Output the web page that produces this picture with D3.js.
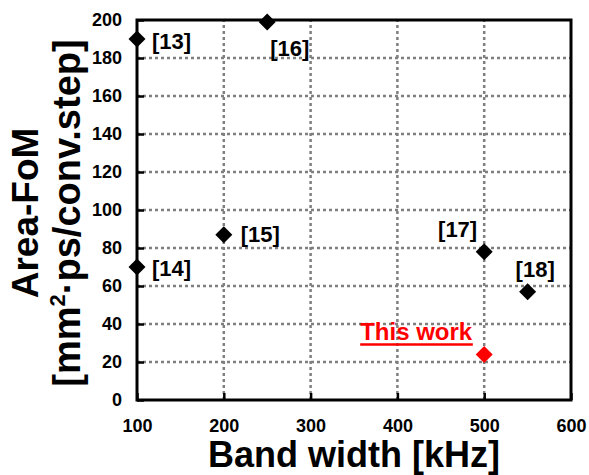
<!DOCTYPE html>
<html>
<head>
<meta charset="utf-8">
<script src="https://cdn.jsdelivr.net/npm/d3@7"></script>
<style>
  html, body { margin: 0; padding: 0; background: #fff; }
  svg { display: block; font-family: "Liberation Sans", Arial, sans-serif; font-weight: bold; }
</style>
</head>
<body>
<svg id="chart" width="589" height="475"></svg>
<script>
// ---- data ----
const refLabels = ["[13]", "[14]", "[15]", "[16]", "[17]", "[18]", "This work"];
const bandwidthKHz = [100, 100, 200, 250, 500, 550, 500];
const areaFoM = [190, 70, 87, 199, 78, 57, 24];
const xTickValues = [100, 200, 300, 400, 500, 600];
const yTickValues = [0, 20, 40, 60, 80, 100, 120, 140, 160, 180, 200];

// ---- layout ----
const W = 589, H = 475;
const margin = { left: 137, right: 18, top: 20, bottom: 75 };
const svg = d3.select("#chart");

const x = d3.scaleLinear().domain([100, 600]).range([margin.left, W - margin.right]);
const y = d3.scaleLinear().domain([0, 200]).range([H - margin.bottom, margin.top]);

// grid (dotted gray)
const grid = svg.append("g").attr("class", "grid");
grid.selectAll("path.gv").data(xTickValues.slice(1, -1)).join("path")
  .attr("class", "gv")
  .attr("d", d => `M${x(d)},${y(0)}V${y(200)}`)
  .style("fill", "none").style("stroke", "#7f7f7f").style("stroke-width", "2.5px")
  .style("stroke-dasharray", "3 3");
grid.selectAll("path.gh").data(yTickValues.slice(1, -1)).join("path")
  .attr("class", "gh")
  .attr("d", d => `M${x(100)},${y(d)}H${x(600)}`)
  .style("fill", "none").style("stroke", "#7f7f7f").style("stroke-width", "2.5px")
  .style("stroke-dasharray", "3 3");

// axes (inward ticks)
const xAxis = d3.axisBottom(x).tickValues(xTickValues).tickSizeInner(-7).tickSizeOuter(0).tickPadding(19);
const yAxis = d3.axisLeft(y).tickValues(yTickValues).tickSizeInner(-7).tickSizeOuter(0).tickPadding(15);

const gx = svg.append("g").attr("transform", `translate(0,${y(0)})`).call(xAxis);
const gy = svg.append("g").attr("transform", `translate(${x(100)},0)`).call(yAxis);
[gx, gy].forEach(g => {
  g.select(".domain").remove();
  g.selectAll(".tick line").style("stroke", "#000").style("stroke-width", "2.5px");
  g.selectAll(".tick text").style("fill", "#000").attr("font-size", 18)
    .style("font-weight", "bold").style("font-family", "Liberation Sans, Arial, sans-serif");
});
gy.selectAll(".tick text").attr("dy", "0.28em");

// frame
svg.append("rect")
  .attr("x", x(100)).attr("y", y(200))
  .attr("width", x(600) - x(100)).attr("height", y(0) - y(200))
  .style("fill", "none").style("stroke", "#000").style("stroke-width", "3px");

// points
const pts = refLabels.map((l, i) => ({ label: l, bw: bandwidthKHz[i], fom: areaFoM[i] }));
const r = 8.5;
const diamond = `M0,${-r}L${r},0L0,${r}L${-r},0Z`;
svg.append("g").selectAll("path").data(pts).join("path")
  .attr("d", diamond)
  .attr("transform", d => `translate(${x(d.bw)},${y(d.fom)})`)
  .style("fill", d => d.label === "This work" ? "#ff0000" : "#000");

// labels
const place = {
  "[13]": { dx: 15, dy: 10, anchor: "start" },
  "[14]": { dx: 15, dy: 9, anchor: "start" },
  "[15]": { dx: 17, dy: 7, anchor: "start" },
  "[16]": { dx: 3, dy: 34, anchor: "start" },
  "[17]": { dx: -7, dy: -15, anchor: "end" },
  "[18]": { dx: -12, dy: -15, anchor: "start" },
  "This work": { dx: -12, dy: -14, anchor: "end" }
};
const lbl = svg.append("g").selectAll("text").data(pts).join("text")
  .attr("x", d => x(d.bw) + place[d.label].dx)
  .attr("y", d => y(d.fom) + place[d.label].dy)
  .attr("text-anchor", d => place[d.label].anchor)
  .attr("font-size", d => d.label === "This work" ? 24 : 22)
  .style("fill", d => d.label === "This work" ? "#ff0000" : "#000")
  .text(d => d.label);

// underline for "This work"
lbl.filter(d => d.label === "This work").each(function (d) {
  const bb = this.getBBox();
  svg.append("path")
    .attr("d", `M${bb.x},${y(d.fom) + place[d.label].dy + 4}H${bb.x + bb.width}`)
    .style("stroke", "#ff0000").style("stroke-width", "2.5px").style("fill", "none");
});

// axis titles
svg.append("text")
  .attr("x", (x(100) + x(600)) / 2).attr("y", 467)
  .attr("text-anchor", "middle").attr("font-size", 36)
  .text("Band width [kHz]");

const yt = svg.append("text")
  .attr("transform", `translate(0,${(y(0) + y(200)) / 2 + 3}) rotate(-90)`)
  .attr("text-anchor", "middle");
yt.append("tspan").attr("x", 0).attr("y", 38).attr("font-size", 37).text("Area-FoM");
const l2 = yt.append("tspan").attr("x", 0).attr("y", 80).attr("font-size", 38);
l2.append("tspan").text("[mm");
l2.append("tspan").attr("font-size", 22).attr("dy", -15).text("2");
l2.append("tspan").attr("dy", 15).text("·ps/conv.step]");
</script>
</body>
</html>
